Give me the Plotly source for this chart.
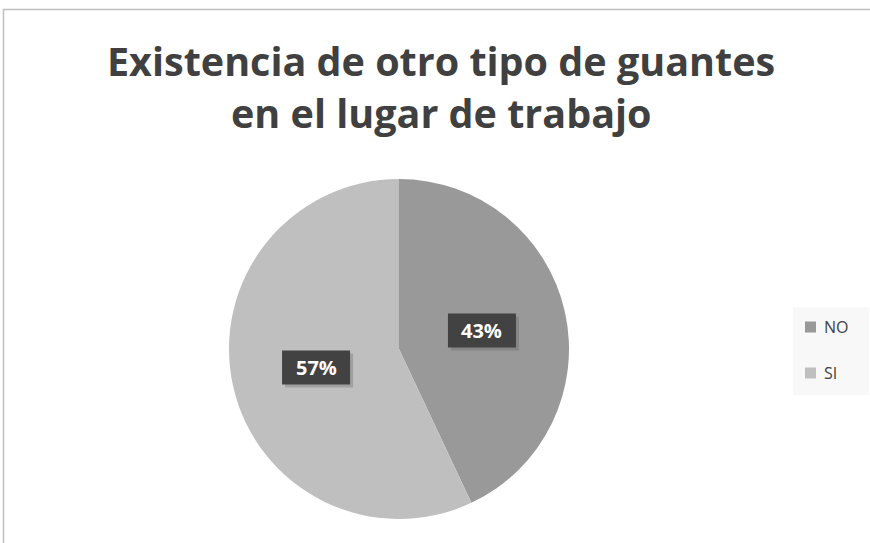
import math
import plotly.graph_objects as go

labels = ["NO", "SI"]
values = [43, 57]
colors = ["#999999", "#bfbfbf"]
title_lines = ["Existencia de otro tipo de guantes", "en el lugar de trabajo"]

W, H = 870, 543
cx, cy, R = 399, 349, 170

fig = go.Figure()
fig.add_trace(go.Pie(
    labels=labels, values=values, sort=False, direction="clockwise", rotation=0,
    marker=dict(colors=colors, line=dict(color="#bfbfbf", width=0)),
    textinfo="none", hoverinfo="label+percent",
    domain=dict(x=[(cx - R) / W, (cx + R) / W], y=[1 - (cy + R) / H, 1 - (cy - R) / H]),
    showlegend=False,
))

total = sum(values)
cum = 0
annotations = []
shapes = []
bw, bh = 68, 34
for v in values:
    mid = (cum + v / 2) / total * 2 * math.pi
    cum += v
    r = 0.5 * R
    px = cx + r * math.sin(mid)
    py = cy - r * math.cos(mid)
    # shadow box
    shapes.append(dict(type="rect", xref="paper", yref="paper",
                       x0=(px - bw / 2 + 3) / W, x1=(px + bw / 2 + 3) / W,
                       y0=1 - (py + bh / 2 + 3) / H, y1=1 - (py - bh / 2 + 3) / H,
                       line=dict(width=0), fillcolor="rgba(90,90,90,0.3)"))
    shapes.append(dict(type="rect", xref="paper", yref="paper",
                       x0=(px - bw / 2) / W, x1=(px + bw / 2) / W,
                       y0=1 - (py + bh / 2) / H, y1=1 - (py - bh / 2) / H,
                       line=dict(width=0), fillcolor="#424242"))
    annotations.append(dict(
        x=px / W, y=1 - py / H, xref="paper", yref="paper",
        xanchor="center", yanchor="middle",
        text="<b>%d%%</b>" % round(v / total * 100), showarrow=False,
        font=dict(family="Open Sans", size=20, color="white"),
    ))

for i, (line, yc) in enumerate(zip(title_lines, [61, 113])):
    annotations.append(dict(
        x=441 / W, y=1 - yc / H, xref="paper", yref="paper", showarrow=False,
        text="<b>" + line + "</b>",
        font=dict(family="Open Sans", size=39.5, color="#404040"),
        xanchor="center", yanchor="middle",
    ))

# legend
shapes.append(dict(type="rect", xref="paper", yref="paper",
                   x0=793 / W, x1=869 / W, y0=1 - 395 / H, y1=1 - 307 / H,
                   line=dict(width=0), fillcolor="#f8f8f8", layer="below"))
for i, (lab, col) in enumerate(zip(labels, colors)):
    yc = 327 + i * 46
    shapes.append(dict(type="rect", xref="paper", yref="paper",
                       x0=805 / W, x1=816 / W, y0=1 - (yc + 5.5) / H, y1=1 - (yc - 5.5) / H,
                       line=dict(width=0), fillcolor=col))
    annotations.append(dict(
        x=822 / W, y=1 - yc / H, xref="paper", yref="paper", showarrow=False,
        text=lab, xanchor="left", yanchor="middle",
        font=dict(family="Open Sans", size=16, color="#404040"),
    ))

shapes.append(dict(type="rect", xref="paper", yref="paper",
                   x0=3.5 / W, x1=1.01, y0=-0.01, y1=1 - 9.5 / H,
                   line=dict(color="#bfbfbf", width=1.5)))

fig.update_layout(
    width=W, height=H,
    margin=dict(l=0, r=0, t=0, b=0),
    paper_bgcolor="white",
    annotations=annotations,
    shapes=shapes,
)

fig.write_html("out.html", config={"displayModeBar": False},
               post_script="document.body.style.margin='0';document.body.style.overflow='hidden';")
